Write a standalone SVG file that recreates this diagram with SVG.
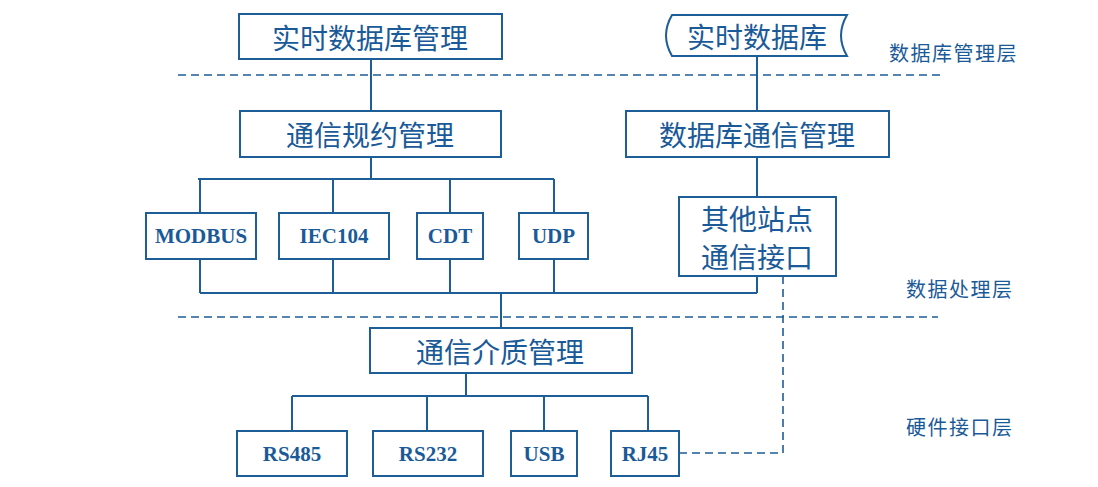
<svg xmlns="http://www.w3.org/2000/svg" width="1098" height="487" viewBox="0 0 1098 487">
<style>
.box{fill:#fff;stroke:#1d5e98;stroke-width:2}
.ln{fill:none;stroke:#1d5e98;stroke-width:2}
.dash{fill:none;stroke:#1d5e98;stroke-width:1.6;stroke-dasharray:8 5}
.cn{font-family:"Noto Sans CJK SC",sans-serif;font-size:28px;fill:#1a5a98;text-anchor:middle;dominant-baseline:central}
.en{font-family:"Liberation Serif",serif;font-weight:bold;font-size:21px;fill:#1a5a98;text-anchor:middle;dominant-baseline:central}
.lay{font-family:"Noto Sans CJK SC",sans-serif;font-size:20px;fill:#1a5a98;dominant-baseline:central;letter-spacing:1.5px}
</style>
<rect width="1098" height="487" fill="#fff"/>
<g id="connectors">
<path class="dash" d="M178,75 H940"/>
<path class="dash" d="M178,317 H938"/>
<path class="ln" d="M371,59 V111"/>
<path class="ln" d="M757,56 V111"/>
<path class="ln" d="M371,157 V179 M198,179 H554 M200,179 V213 M333,179 V213 M450,179 V213 M554,179 V213"/>
<path class="ln" d="M757,157 V197"/>
<path class="ln" d="M200,259 V293 M333,259 V293 M450,259 V293 M554,259 V293 M757,276 V293 M200,293 H757"/>
<path class="ln" d="M501,293 V328"/>
<path class="ln" d="M466,373 V396 M292,396 H648 M292,396 V431 M427,396 V431 M544,396 V431 M648,396 V431"/>
<path class="dash" d="M783,276 V453 H679"/>
</g>
<g id="n-rtdbm"><rect class="box" x="239" y="14" width="263" height="45"/><text class="cn" x="370" y="36.5">实时数据库管理</text></g>
<g id="n-rtdb"><path class="box" d="M672,15 H847 Q835,35.5 847,56 H672 Q660,35.5 672,15 Z"/><text class="cn" x="757" y="35.5">实时数据库</text></g>
<g id="n-proto"><rect class="box" x="240" y="111" width="261" height="46"/><text class="cn" x="370" y="134">通信规约管理</text></g>
<g id="n-dbcomm"><rect class="box" x="626" y="111" width="263" height="46"/><text class="cn" x="757" y="134">数据库通信管理</text></g>
<g id="n-modbus"><rect class="box" x="146" y="213" width="110" height="46"/><text class="en" x="201" y="236">MODBUS</text></g>
<g id="n-iec104"><rect class="box" x="279" y="213" width="110" height="46"/><text class="en" x="334" y="236">IEC104</text></g>
<g id="n-cdt"><rect class="box" x="417" y="213" width="66" height="46"/><text class="en" x="450" y="236">CDT</text></g>
<g id="n-udp"><rect class="box" x="519" y="213" width="69" height="46"/><text class="en" x="553.5" y="236">UDP</text></g>
<g id="n-other"><rect class="box" x="679" y="197" width="157" height="79"/><text class="cn" x="757" y="218">其他站点</text><text class="cn" x="757" y="256">通信接口</text></g>
<g id="n-medium"><rect class="box" x="370" y="328" width="262" height="45"/><text class="cn" x="500" y="350.5">通信介质管理</text></g>
<g id="n-rs485"><rect class="box" x="237" y="431" width="110" height="45"/><text class="en" x="292" y="453.5">RS485</text></g>
<g id="n-rs232"><rect class="box" x="373" y="431" width="110" height="45"/><text class="en" x="428" y="453.5">RS232</text></g>
<g id="n-usb"><rect class="box" x="511" y="431" width="66" height="45"/><text class="en" x="544" y="453.5">USB</text></g>
<g id="n-rj45"><rect class="box" x="611" y="431" width="68" height="45"/><text class="en" x="645" y="453.5">RJ45</text></g>
<g id="layers">
<text class="lay" x="889" y="52">数据库管理层</text>
<text class="lay" x="906" y="288">数据处理层</text>
<text class="lay" x="906" y="426">硬件接口层</text>
</g>
</svg>
